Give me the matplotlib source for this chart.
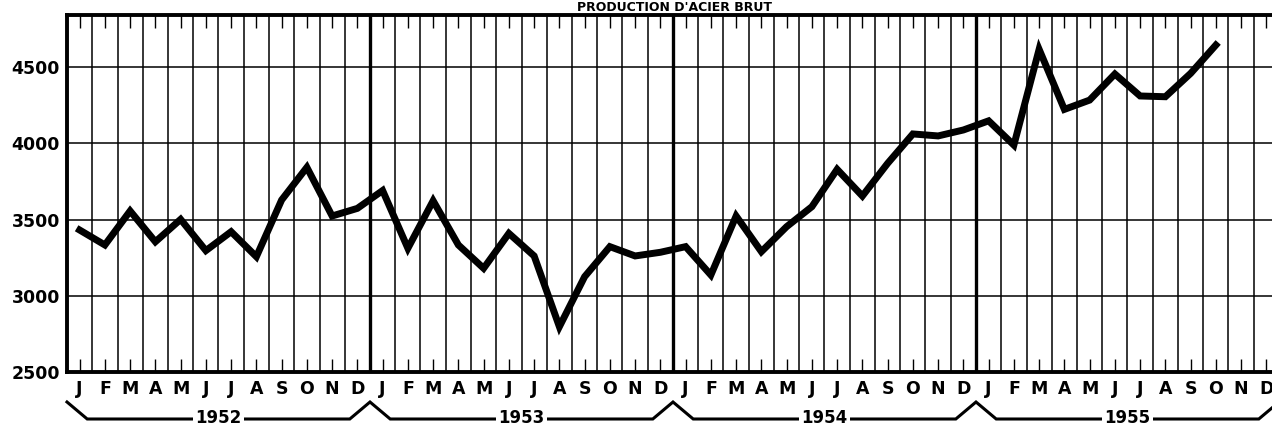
import matplotlib
matplotlib.use('Agg')
import numpy as np
import matplotlib.pyplot as plt
from matplotlib.transforms import blended_transform_factory

# monthly crude steel production
years = [1952, 1953, 1954, 1955]
month_letters = ["J", "F", "M", "A", "M", "J", "J", "A", "S", "O", "N", "D"]
prod_1952 = [3431, 3333, 3556, 3354, 3501, 3296, 3420, 3256, 3628, 3842, 3523, 3573]
prod_1953 = [3690, 3311, 3623, 3333, 3180, 3409, 3261, 2797, 3125, 3322, 3261, 3285]
prod_1954 = [3322, 3136, 3523, 3289, 3453, 3584, 3829, 3654, 3868, 4061, 4048, 4087]
prod_1955 = [4147, 3988, 4616, 4222, 4283, 4454, 4310, 4305, 4458, 4644]
y_ticks = [2500, 3000, 3500, 4000, 4500]

values = np.array(prod_1952 + prod_1953 + prod_1954 + prod_1955)
months = np.arange(len(values)) + 0.5
n_months = 12 * len(years)

fig = plt.figure(figsize=(12.72, 4.26), dpi=100)
ax = fig.add_axes([67 / 1272, 1 - 372 / 426, 1 - 67 / 1272, (372 - 15) / 426])

# grid: thin month lines, thick year lines, horizontal value lines
for m in range(1, n_months):
    lw = 2.4 if m % 12 == 0 else 1.1
    ax.axvline(m, color='black', lw=lw, zorder=1)
for v in y_ticks[1:]:
    ax.axhline(v, color='black', lw=1.1, zorder=1)

ax.plot(months, values, color='black', lw=5, solid_joinstyle='miter', zorder=3)

ax.set_xlim(0, (1272 - 67) / 25.25)
ax.set_ylim(2500, 4841)

ax.set_xticks(np.arange(n_months) + 0.5)
ax.set_xticklabels(month_letters * len(years), fontsize=12.5, fontweight='bold')
ax.tick_params(axis='x', direction='in', length=9.5, width=1.0, top=True, pad=6)
ax.set_yticks(y_ticks)
ax.set_yticklabels([str(v) for v in y_ticks], fontsize=12.5, fontweight='bold')
ax.tick_params(axis='y', length=0, pad=5)

for side in ['left', 'bottom', 'top']:
    ax.spines[side].set_linewidth(2.8)
ax.spines['right'].set_visible(False)

# year brackets under the month letters
trans = blended_transform_factory(ax.transData, fig.transFigure)
y_peak = 1 - 402 / 426
y_line = 1 - 419 / 426
bx, by = [], []
for k in range(len(years)):
    start = 12 * k
    bx += [start, start + 0.8, start + 12 - 0.8]
    by += [y_peak, y_line, y_line]
bx.append(n_months)
by.append(y_peak)
ax.plot(bx, by, color='black', lw=2.2, transform=trans, clip_on=False,
        solid_joinstyle='miter')
for k, yr in enumerate(years):
    ax.text(12 * k + 6, 1 - 418 / 426, str(yr), transform=trans, ha='center',
            va='center', fontsize=12, fontweight='bold',
            bbox=dict(facecolor='white', edgecolor='none', pad=1.5), zorder=5)

fig.text(674 / 1272, 1 - 11 / 426, "PRODUCTION D'ACIER BRUT", ha='center',
         va='baseline', fontsize=9, fontweight='bold')

fig.savefig('out.png', dpi=100)
